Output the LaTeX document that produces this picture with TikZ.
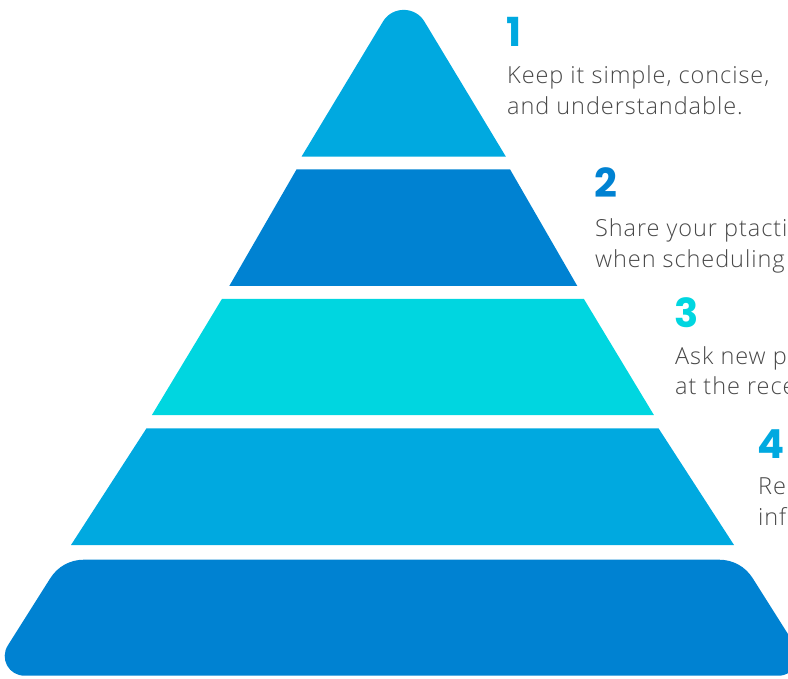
\documentclass[tikz,border=0pt]{standalone}
\usepackage{fontspec}
\usetikzlibrary{calc}
\newfontfamily\descfont{Open Sans Light}[LetterSpace=4]
\newfontfamily\numfont{Poppins}
\definecolor{skyblue}{RGB}{0,169,224}
\definecolor{deepblue}{RGB}{0,130,210}
\definecolor{aqua}{RGB}{0,214,224}
\definecolor{bodygray}{RGB}{72,72,72}
\tikzset{
  tierA/.style={fill=skyblue},
  tierB/.style={fill=deepblue},
  tierC/.style={fill=aqua},
  numlabel/.style={anchor=base west, inner sep=0pt, font=\numfont\bfseries\fontsize{40}{40}\selectfont},
  bodyline/.style={anchor=base west, inner sep=0pt, text=bodygray, font=\descfont\fontsize{23.5}{31}\selectfont},
}
\begin{document}
\begin{tikzpicture}[x=1pt,y=-1pt]
\useasboundingbox (0,0) rectangle (788,679);
\clip (0,0) rectangle (788,679);

% tier 1: triangle with rounded apex
\coordinate (a1) at (301.5,156.7);
\coordinate (p1) at (403.7,-12.8);
\coordinate (b1) at (505.9,156.7);
\fill[tierA] (a1) -- ($(p1)!40pt!(a1)$) .. controls ($(p1)!22pt!(a1)$) and ($(p1)!22pt!(b1)$) .. ($(p1)!40pt!(b1)$) -- (b1) -- cycle;

% tiers 2-4: plain trapezoids
\fill[tierB] (296.6,169.3) -- (510.0,169.3) -- (577.3,286.0) -- (229.3,286.0) -- cycle;
\fill[tierC] (221.9,299.0) -- (583.9,299.0) -- (653.9,415.0) -- (151.9,415.0) -- cycle;
\fill[tierA] (146.5,428.3) -- (658.5,428.3) -- (734.0,545.0) -- (71.0,545.0) -- cycle;

% tier 5: trapezoid with rounded corners
\coordinate (tl) at (62,559.7);
\coordinate (tr) at (741,559.7);
\coordinate (br) at (814.3,675.7);
\coordinate (bl) at (-11.3,675.7);
\fill[tierB]
  ($(tl)!22pt!(tr)$) -- ($(tr)!22pt!(tl)$)
  .. controls ($(tr)!8pt!(tl)$) and ($(tr)!8pt!(br)$) .. ($(tr)!22pt!(br)$)
  -- ($(br)!36pt!(tr)$)
  .. controls ($(br)!20pt!(tr)$) and ($(br)!20pt!(bl)$) .. ($(br)!36pt!(bl)$)
  -- ($(bl)!36pt!(br)$)
  .. controls ($(bl)!20pt!(br)$) and ($(bl)!20pt!(tl)$) .. ($(bl)!36pt!(tl)$)
  -- ($(tl)!22pt!(bl)$)
  .. controls ($(tl)!8pt!(bl)$) and ($(tl)!8pt!(tr)$) .. ($(tl)!22pt!(tr)$)
  -- cycle;

% step labels
\node[numlabel, text=skyblue]  (n1) at (506,47)  {1};
\node[bodyline] (t1a) at (507,84)  {Keep it simple, concise,};
\node[bodyline] (t1b) at (507,115) {and understandable.};

\node[numlabel, text=deepblue] (n2) at (594,198) {2};
\node[bodyline] (t2a) at (595,237) {Share your ptacti};
\node[bodyline] (t2b) at (595,268) {when scheduling};

\node[numlabel, text=aqua]     (n3) at (674,327) {3};
\node[bodyline] (t3a) at (675,364) {Ask new p};
\node[bodyline] (t3b) at (675,395) {at the rece};

\node[numlabel, text=skyblue]  (n4) at (757,458) {4};
\node[bodyline] (t4a) at (758,494) {Re};
\node[bodyline] (t4b) at (758,525) {info};
\end{tikzpicture}
\end{document}
